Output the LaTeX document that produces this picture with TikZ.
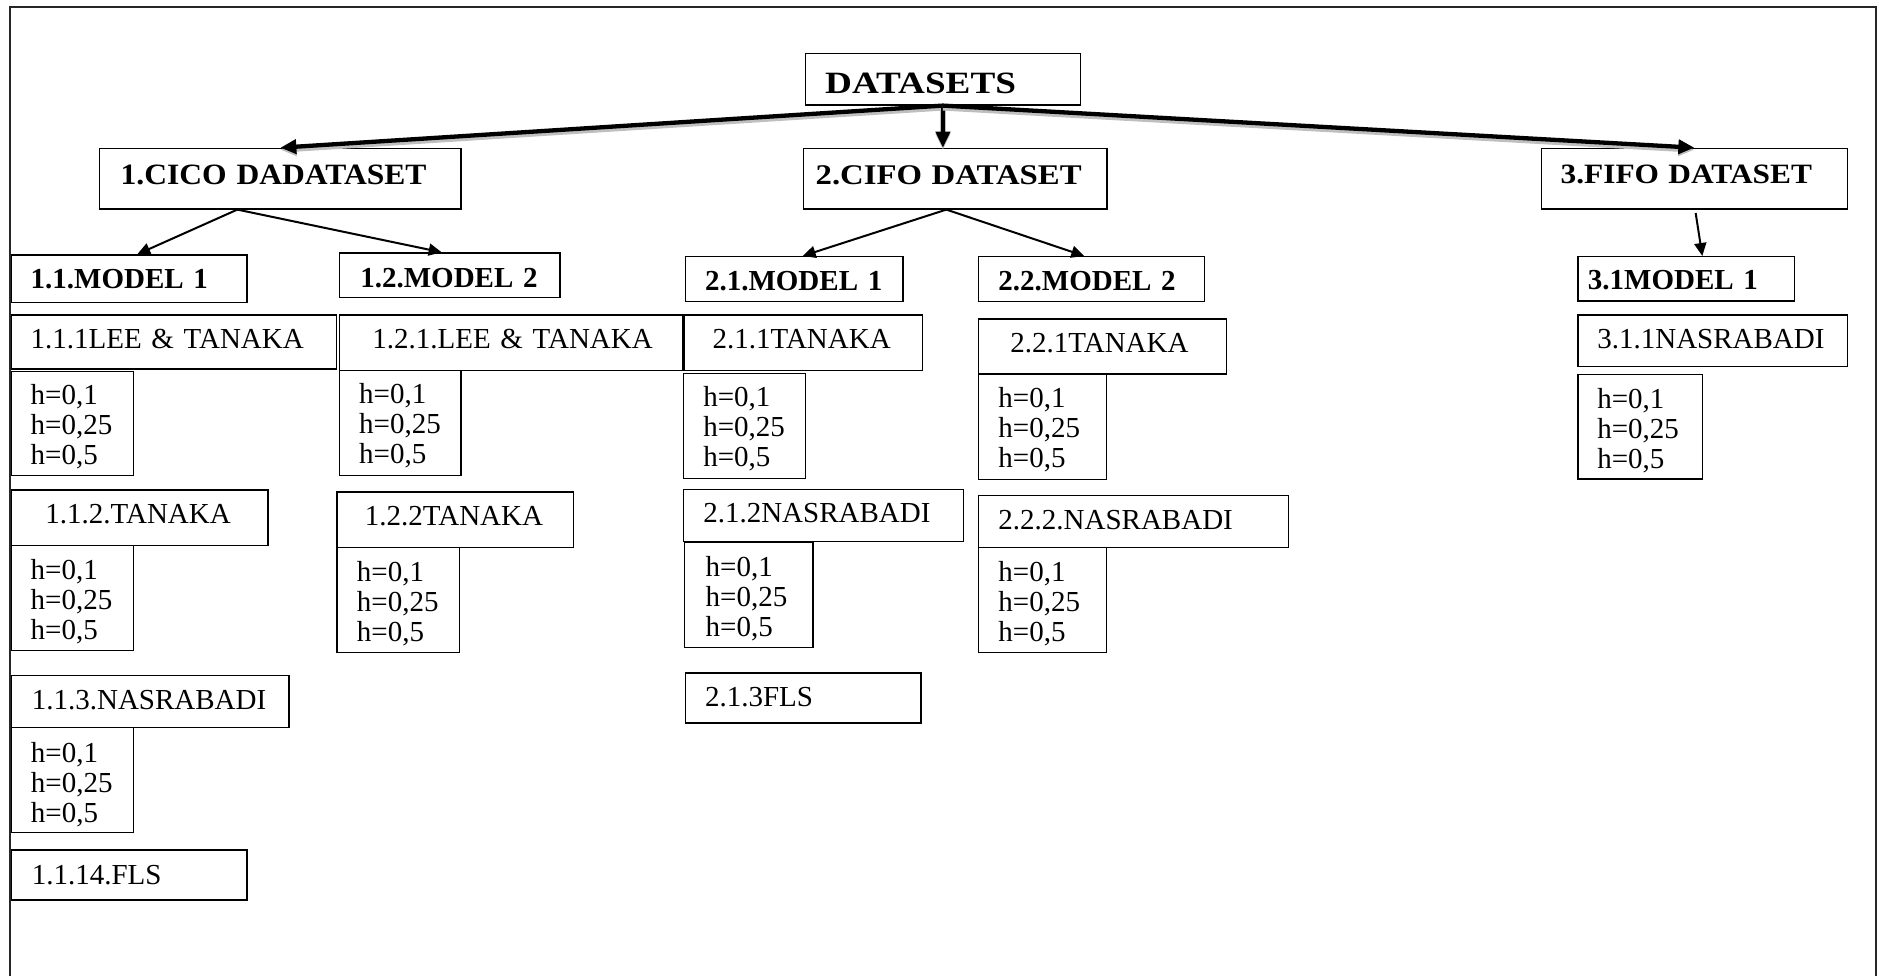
\documentclass[tikz,border=0pt]{standalone}
\usepackage{fontspec}
\setmainfont{Liberation Serif}
\usetikzlibrary{arrows.meta}
\newcommand\fLeaf{\fontsize{29}{30}\selectfont}
\newcommand\fModel{\fontsize{29}{30}\selectfont\bfseries}
\newcommand\fDs{\fontsize{31}{32}\selectfont\bfseries\addfontfeature{FakeStretch=1.2}}
\newcommand\fCico{\fontsize{29.5}{31}\selectfont\bfseries\addfontfeature{FakeStretch=1.07}}
\newcommand\fCifo{\fontsize{28.5}{30}\selectfont\bfseries\addfontfeature{FakeStretch=1.15}}
\newcommand\fFifo{\fontsize{28}{30}\selectfont\bfseries\addfontfeature{FakeStretch=1.12}}
\begin{document}
\begin{tikzpicture}[x=1pt,y=-1pt,
  bx/.style={draw=black, line width=1.3pt, anchor=north west, inner ysep=0pt, align=left},
  leaf/.style={bx, font=\fLeaf},
  hbox/.style={bx, font=\fLeaf},
  model/.style={bx, font=\fModel},
  dsarrow/.style={line width=4.3pt, -{Triangle[length=16pt,width=14pt]},
    preaction={draw=black!25, line width=6pt, transform canvas={yshift=-2pt}}},
  subarrow/.style={line width=2pt, -{Triangle[length=13pt,width=12pt]}},
  framestyle/.style={line width=2pt, draw=black!85}]
\useasboundingbox (0,0) rectangle (1879,976);
% outer frame
\draw[framestyle] (9.5,976) -- (9.5,6.7) -- (1876,6.7) -- (1876,976);

% top level
\node[bx, font=\fDs, text width=235.5pt, inner xsep=20pt, text height=40.6pt, text depth=11pt] (ds) at (804.5,52.7) {DATASETS};
\node[bx, font=\fCico, text width=319.4pt, inner xsep=21pt, text height=36pt, text depth=24.6pt] (cico) at (99,147.7) {\mbox{1.CICO DADATASET}};
\node[bx, font=\fCifo, text width=279.4pt, inner xsep=12pt, text height=36.6pt, text depth=24pt] (cifo) at (803,147.7) {\mbox{2.CIFO DATASET}};
\node[bx, font=\fFifo, text width=267.4pt, inner xsep=19.3pt, text height=35.6pt, text depth=25pt] (fifo) at (1540.7,147.7) {\mbox{3.FIFO DATASET}};

% models
\node[model, text width=197.2pt, inner xsep=19.2pt, text height=34pt, text depth=13.7pt] (m11) at (10.8,254.3) {\mbox{1.1.MODEL 1}};
\node[model, text width=178.7pt, inner xsep=21pt, text height=34.4pt, text depth=10pt] (m12) at (338.7,252.3) {\mbox{1.2.MODEL 2}};
\node[model, text width=178.2pt, inner xsep=19.7pt, text height=34pt, text depth=10.7pt] (m21) at (684.7,256) {\mbox{2.1.MODEL 1}};
\node[model, text width=185.7pt, inner xsep=20pt, text height=34pt, text depth=10.7pt] (m22) at (977.8,256) {\mbox{2.2.MODEL 2}};
\node[model, text width=196.7pt, inner xsep=10pt, text height=32.5pt, text depth=12pt] (m31) at (1577.3,256) {\mbox{3.1MODEL 1}};

% leaves, column 1.1
\node[leaf, text width=286.5pt, inner xsep=19.2pt, text height=34pt, text depth=20pt] (l111) at (10.8,314.3) {\mbox{1.1.1LEE \& TANAKA}};
\node[hbox, text width=83.8pt, inner xsep=19.2pt, text height=33.3pt, text depth=71pt] (h111) at (10.8,370.7) {h=0,1\\h=0,25\\h=0,5};
\node[leaf, text width=188.6pt, inner xsep=34pt, text height=33.4pt, text depth=22.3pt] (l112) at (10.8,489.3) {\mbox{1.1.2.TANAKA}};
\node[hbox, text width=83.8pt, inner xsep=19.2pt, text height=34pt, text depth=71pt] (h112) at (10.8,545) {h=0,1\\h=0,25\\h=0,5};
\node[leaf, text width=236.8pt, inner xsep=20.4pt, text height=34.3pt, text depth=17.4pt] (l113) at (10.8,675) {\mbox{1.1.3.NASRABADI}};
\node[hbox, text width=83.2pt, inner xsep=19.5pt, text height=35pt, text depth=70pt] (h113) at (10.8,726.7) {h=0,1\\h=0,25\\h=0,5};
\node[leaf, text width=194.8pt, inner xsep=20.4pt, text height=34.7pt, text depth=15.3pt] (l114) at (10.8,849.3) {\mbox{1.1.14.FLS}};

% column 1.2
\node[leaf, text width=277.5pt, inner xsep=33pt, text height=34pt, text depth=21.8pt] (l121) at (338.7,314.2) {\mbox{1.2.1.LEE \& TANAKA}};
\node[hbox, text width=82.1pt, inner xsep=19.8pt, text height=33.3pt, text depth=71.7pt] (h121) at (338.7,370) {h=0,1\\h=0,25\\h=0,5};
\node[leaf, text width=180.7pt, inner xsep=28pt, text height=33.7pt, text depth=21.7pt] (l122) at (336.3,491.3) {\mbox{1.2.2TANAKA}};
\node[hbox, text width=82.3pt, inner xsep=20pt, text height=34.3pt, text depth=70.7pt] (h122) at (336.3,546.7) {h=0,1\\h=0,25\\h=0,5};

% column 2.1
\node[leaf, text width=182pt, inner xsep=28pt, text height=34pt, text depth=21.8pt] (l211) at (684,314.2) {\mbox{2.1.1TANAKA}};
\node[hbox, text width=82.3pt, inner xsep=19.7pt, text height=33.3pt, text depth=71.7pt] (h211) at (682.9,372.7) {h=0,1\\h=0,25\\h=0,5};
\node[leaf, text width=240.6pt, inner xsep=19.6pt, text height=32.7pt, text depth=19pt] (l212) at (683,489) {\mbox{2.1.2NASRABADI}};
\node[hbox, text width=86.4pt, inner xsep=21pt, text height=34pt, text depth=70.7pt] (h212) at (684,542) {h=0,1\\h=0,25\\h=0,5};
\node[leaf, text width=196.2pt, inner xsep=19.7pt, text height=33.7pt, text depth=16.3pt] (l213) at (684.7,672.3) {\mbox{2.1.3FLS}};

% column 2.2
\node[leaf, text width=184.2pt, inner xsep=32pt, text height=33.4pt, text depth=21.6pt] (l221) at (977.8,318.3) {\mbox{2.2.1TANAKA}};
\node[hbox, text width=88.2pt, inner xsep=20pt, text height=34pt, text depth=71.7pt] (h221) at (977.8,373.3) {h=0,1\\h=0,25\\h=0,5};
\node[leaf, text width=269.9pt, inner xsep=20pt, text height=34pt, text depth=17.7pt] (l222) at (977.8,495) {\mbox{2.2.2.NASRABADI}};
\node[hbox, text width=88.2pt, inner xsep=20pt, text height=34.3pt, text depth=70.7pt] (h222) at (977.8,546.7) {h=0,1\\h=0,25\\h=0,5};

% column 3.1
\node[leaf, text width=230.6pt, inner xsep=19.4pt, text height=33.4pt, text depth=18pt] (l311) at (1577.3,314.3) {\mbox{3.1.1NASRABADI}};
\node[hbox, text width=85.9pt, inner xsep=19.4pt, text height=34.6pt, text depth=70pt] (h311) at (1577.3,373.7) {h=0,1\\h=0,25\\h=0,5};

% connectors
\draw[dsarrow] (ds.south) -- (cico.north);
\draw[dsarrow] (ds.south) -- (ds.south |- cifo.north);
\draw[dsarrow] (ds.south) -- (fifo.north);
\draw[subarrow] ([xshift=-43pt]cico.south) -- ([xshift=8pt]m11.north);
\draw[subarrow] ([xshift=-43pt]cico.south) -- ([xshift=-8pt]m12.north);
\draw[subarrow] ([xshift=-9pt]cifo.south) -- ([xshift=8.5pt]m21.north);
\draw[subarrow] ([xshift=-9pt]cifo.south) -- ([xshift=-7pt]m22.north);
\draw[subarrow] ([xshift=1.3pt,yshift=-3.4pt]fifo.south) -- ([xshift=16pt]m31.north);
\end{tikzpicture}
\end{document}
